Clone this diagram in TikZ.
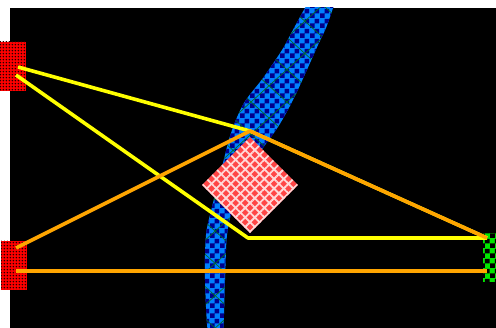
\documentclass[tikz,border=0pt]{standalone}
\usetikzlibrary{patterns,patterns.meta,shapes.geometric}
\pgfdeclarepatternformonly{bigcheck}{\pgfpointorigin}{\pgfqpoint{10pt}{10pt}}{\pgfqpoint{10pt}{10pt}}{%
 \pgfpathrectangle{\pgfpointorigin}{\pgfqpoint{5pt}{5pt}}%
 \pgfpathrectangle{\pgfqpoint{5pt}{5pt}}{\pgfqpoint{5pt}{5pt}}%
 \pgfusepath{fill}}
\pgfdeclarepatternformonly{finedots}{\pgfpointorigin}{\pgfqpoint{3.3pt}{3.3pt}}{\pgfqpoint{3.3pt}{3.3pt}}{%
 \pgfpathcircle{\pgfqpoint{1.65pt}{1.65pt}}{0.95pt}%
 \pgfusepath{fill}}
\definecolor{lblue}{RGB}{0,128,255}
\definecolor{dblue}{RGB}{0,0,140}
\definecolor{gline}{RGB}{0,110,40}
\definecolor{ylw}{RGB}{255,255,0}
\definecolor{org}{RGB}{255,165,0}
\definecolor{dred}{RGB}{255,70,70}
\definecolor{gchk}{RGB}{0,230,0}
\tikzset{
  redbox/.style={rectangle, minimum width=26pt, minimum height=49pt, inner sep=0pt,
    fill=red, postaction={pattern=finedots, pattern color=black!85!red}},
  greenbox/.style={rectangle, minimum width=26pt, minimum height=49pt, inner sep=0pt,
    fill=gchk, postaction={pattern=bigcheck, pattern color=black}},
  ylink/.style={draw=ylw, line width=3.6pt, line join=round},
  olink/.style={draw=org, line width=3.6pt, line join=round},
}
\begin{document}
\begin{tikzpicture}[x=1pt,y=-1pt]
\useasboundingbox (0,0) rectangle (496,328);
\fill[white] (0,0) rectangle (496,328);
\fill[black] (10,8) rectangle (496,328);
% blue leaf
\begin{scope}
\clip (10,8) rectangle (496,328);
\def\leaf{plot[smooth cycle, tension=0.5] coordinates {(324,-18) (313,-4) (305,8) (294,28) (282,50) (263,78) (244,103) (231,133) (220,175) (212,207) (206,235) (205,280) (209,340) (222,340) (225,280) (227,235) (234,205) (255,160) (278,127) (293,100) (306,72) (318,45) (326,28) (333,8) (337,-6)}}
\fill[lblue] \leaf;
\path[pattern=bigcheck, pattern color=dblue] \leaf;
\path[pattern={Lines[angle=42,distance=24pt,line width=0.7pt]}, pattern color=gline] \leaf;
\path[pattern={Lines[angle=-42,distance=24pt,line width=0.7pt]}, pattern color=gline] \leaf;
\end{scope}
% diamond
\node[diamond, minimum width=96pt, minimum height=96pt, inner sep=0pt, fill=dred,
  postaction={pattern={Lines[angle=45,distance=6.8pt,line width=1.8pt]}, pattern color=white!85!red},
  postaction={pattern={Lines[angle=-45,distance=6.8pt,line width=1.8pt]}, pattern color=white!85!red}]
  (dm) at (250,185) {};
% boxes
\node[redbox] (r1) at (13,66.5) {};
\node[redbox] (r2) at (14,265.5) {};
\node[greenbox] (g1) at (496,257.5) {};
% connection points
\coordinate (r1a) at (18,67);
\coordinate (r1b) at (16,75);
\coordinate (r2a) at (16,248);
\coordinate (r2b) at (16,271);
\coordinate (apex) at (250,131);
\coordinate (bend) at (248,238);
\coordinate (g1a) at (487,238);
\coordinate (g1b) at (487,271);
% links
\draw[ylink] (r1a) -- (apex) -- (g1a);
\draw[ylink] (r1b) -- (bend) -- (g1a);
\draw[olink] (r2a) -- (apex) -- (g1a);
\draw[olink] (r2b) -- (g1b);
\end{tikzpicture}
\end{document}
